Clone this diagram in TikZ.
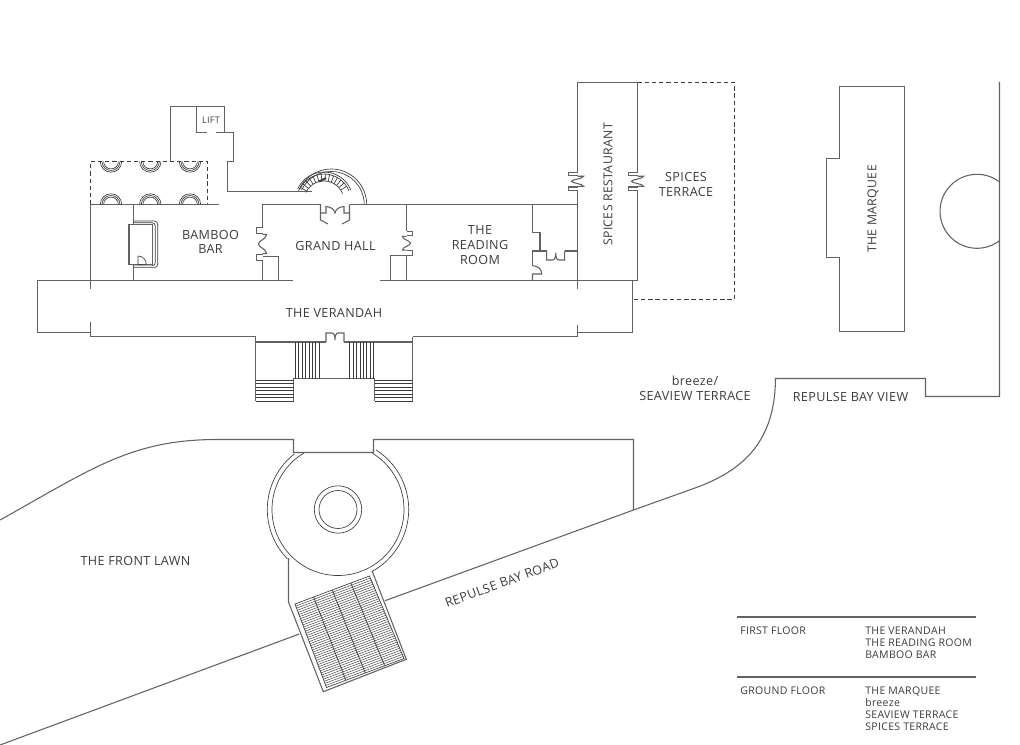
\documentclass[tikz,border=0pt]{standalone}
\usepackage{fontspec}
\setmainfont{Open Sans}[LetterSpace=3]
\usetikzlibrary{calc}

\definecolor{wallgray}{HTML}{626262}
\definecolor{inkgray}{HTML}{3C3C3C}

\tikzset{
  wall/.style={draw=wallgray, line width=0.8pt, line join=miter},
  thin wall/.style={draw=inkgray, line width=0.5pt},
  dash wall/.style={draw=inkgray, line width=0.6pt, dash pattern=on 3.2pt off 2.2pt},
  room/.style={font=\fontsize{9.45}{11}\selectfont, text=inkgray, align=center, inner sep=0pt},
  tall room/.style={room, font=\fontsize{9.2}{11}\selectfont, rotate=90},
  small room/.style={font=\fontsize{7.9}{9}\selectfont, text=inkgray, align=left, inner sep=0pt},
  swing door/.pic={
    \draw[wall] (0,-14) -- (-6,-14) -- (-6,-9) -- (0,-9);
    \draw[wall] (0,9) -- (-6,9) -- (-6,14) -- (0,14);
    \draw[wall] (0,-8) -- (4,-8) .. controls (4,-4) and (-4,-3) .. (-4,0) .. controls (-4,3) and (4,4) .. (4,8) -- (0,8);
  },
  arch door/.pic={
    \draw[wall] (-9,0) -- (-9,9) -- (-3,9) .. controls (-1,9) and (0,6) .. (0,2) .. controls (0,6) and (1,9) .. (3,9) -- (9,9) -- (9,0);
  }
}

\begin{document}
\begin{tikzpicture}[x=0.75pt, y=-0.75pt]
  \path[use as bounding box] (0,0) rectangle (1020,745);

  % Lift and back stairs
  \draw[wall] (170.5,161.5) -- (170.5,106.5) -- (224.5,106.5) -- (224.5,132.5);
  \draw[wall] (196.5,106.5) -- (196.5,132.5) -- (207,132.5);
  \draw[wall] (216,132.5) -- (233.5,132.5) -- (233.5,161.5) -- (227.5,161.5) -- (227.5,191.5) -- (312,191.5);

  % Bamboo bar terrace
  \draw[dash wall] (90.5,204.5) -- (90.5,161.5) -- (207.5,161.5) -- (207.5,204.5);
  \draw[wall] (90.5,204.5) -- (219,204.5);
  \draw[wall] (90.5,204.5) -- (90.5,289);
  \draw[wall] (133.5,204.5) -- (133.5,224);
  \draw[wall] (133.5,264) -- (133.5,280.5);
  \foreach \cx in {111,150.3,190} {
    \foreach \r in {10.7,9,7.4} {
      \draw[thin wall] (\cx,204.5) ++(-180:\r) arc[start angle=-180, end angle=0, radius=\r];
      \draw[thin wall] (\cx,161.5) ++(180:\r) arc[start angle=180, end angle=0, radius=\r];
    }
  }

  % Bar counter
  \draw[wall] (129,224.5) rectangle (152.5,264.5);
  \draw[thin wall] (138,264.5) -- (138,256) arc[start angle=-90, end angle=0, radius=8.3] -- cycle;
  \foreach \rx/\ry in {157.7/221,155.3/222.7} {
    \draw[thin wall, rounded corners=2.5pt] (133.5,\ry) -- (\rx,\ry) -- (\rx,488.6-\ry) -- (133.5,488.6-\ry);
  }

  % Grand hall
  \draw[wall] (262.5,227) -- (262.5,204.5) -- (320.5,204.5);
  \draw[wall] (262.5,261) -- (262.5,280.5);
  \draw[wall] (262.5,256.5) -- (278.5,256.5) -- (278.5,280.5);
  \pic[yscale=1.19] at (262.5,244) {swing door};
  \draw[wall] (320.5,204.5) -- (320.5,220) -- (328,224);
  \draw[wall] (320.5,213) -- (326,213) -- (326,206.5) .. controls (331,207) and (334,209) .. (335,213) .. controls (336,209) and (339,207) .. (344,206.5) -- (344,213) -- (349.5,213);
  \draw[wall] (349.5,204.5) -- (349.5,220) -- (342,224);
  \draw[wall] (349.5,204.5) -- (577.5,204.5);

  % Grand stair
  \draw[thin wall] (366.7,204.5) arc[start angle=0, end angle=-157, radius=35.5];
  \draw[thin wall] (364.2,204.5) arc[start angle=0, end angle=-154, radius=33];
  \foreach \r in {29,27,20} {
    \draw[thin wall] (324,201) ++(-155:\r) arc[start angle=-155, end angle=-22, radius=\r];
  }
  \foreach \a in {-150,-141,...,-25} {
    \draw[thin wall] (324,201) ++(\a:20) -- ++(\a:7);
  }
  \draw[draw=inkgray, line width=1.4pt] (319,181.5) -- (326,178);

  % Reading room
  \draw[wall] (406.5,204.5) -- (406.5,231);
  \draw[wall] (406.5,255.5) -- (406.5,280.5);
  \draw[wall] (406.5,255.5) -- (390.5,255.5) -- (390.5,280.5);
  \pic[xscale=-1, yscale=0.86] at (406.5,243.2) {swing door};

  % Service room
  \draw[wall] (532.5,204.5) -- (532.5,232.5) -- (540,232.5) -- (540,251);
  \draw[wall] (532.5,265.7) -- (532.5,251) -- (546.7,251);
  \pic at (555.7,251) {arch door};
  \draw[wall] (564.7,251) -- (577.5,251);
  \draw[wall] (532.5,265.7) .. controls (538,266) and (541.7,269) .. (541.7,274) -- (532.5,274) -- (532.5,280.5);

  % Spices restaurant and terrace
  \draw[wall] (577.5,172.5) -- (577.5,82.5) -- (637.5,82.5) -- (637.5,172.5);
  \draw[wall] (577.5,190) -- (577.5,289);
  \draw[wall] (637.5,190) -- (637.5,280.5);
  \pic[xscale=1.5, yscale=0.63] at (577.5,181.3) {swing door};
  \pic[xscale=1.5, yscale=0.63] at (637.5,181.3) {swing door};
  \draw[dash wall] (637.5,82.5) -- (734.5,82.5) -- (734.5,299.5) -- (632.5,299.5);

  % Verandah
  \draw[wall] (293,280.5) -- (37.5,280.5) -- (37.5,332.5) -- (90.5,332.5);
  \draw[wall] (380,280.5) -- (637.5,280.5);
  \draw[wall] (632.5,280.5) -- (632.5,332.5) -- (577.5,332.5);
  \draw[wall] (90.5,322) -- (90.5,336.5) -- (255.5,336.5);
  \draw[wall] (577.5,325) -- (577.5,336.5) -- (412.5,336.5);

  % Entrance steps
  \draw[wall] (255.5,336.5) -- (255.5,401);
  \draw[wall] (412.5,336.5) -- (412.5,401);
  \draw[wall] (255.5,342) -- (326,342);
  \draw[wall] (344,342) -- (412.5,342);
  \pic[yscale=-1] at (335,342) {arch door};
  \draw[wall] (293.5,401) -- (293.5,378.5) -- (374.5,378.5) -- (374.5,401);
  \foreach \sx in {295,298.5,302.3,305.7,309,312.3,315.7,319.3} {
    \draw[thin wall] (\sx,342) -- (\sx,378.5);
    \draw[thin wall] (\sx+54.5,342) -- (\sx+54.5,378.5);
  }
  \foreach \sy in {380,383.5,387,390.5,394,397.5,401} {
    \draw[thin wall] (255.5,\sy) -- (293.5,\sy);
    \draw[thin wall] (374.5,\sy) -- (412.5,\sy);
  }

  % Forecourt and rotunda
  \draw[wall] (0,520) .. controls (90,470) and (130,440) .. (215,439.5) -- (293.5,439.5) -- (293.5,452.5) -- (373.5,452.5) -- (373.5,439.5) -- (633.5,439.5) -- (633.5,510);
  \draw[thin wall] (338,509.5) circle[radius=23.7];
  \draw[thin wall] (338,509.5) circle[radius=19];
  \draw[thin wall] (338,509.5) ++(-121:66) arc[start angle=-121, end angle=-418.6, radius=66];
  \draw[thin wall] (338,509.5) ++(-128:70.7) arc[start angle=-128, end angle=-224.3, radius=70.7];
  \draw[thin wall] (338,509.5) ++(61.2:70.7) arc[start angle=61.2, end angle=-57.6, radius=70.7];
  \draw[wall] (288.5,558) -- (288.5,602) -- (323.3,691.7) -- (406.3,659.3) -- (372,570.7);

  % Lower flight
  \coordinate (flightA) at (295,604);
  \coordinate (flightB) at (369.5,576);
  \coordinate (flightC) at (404,658.5);
  \coordinate (flightD) at (326.5,687.5);
  \draw[thin wall] (flightA) -- (flightB) -- (flightC) -- (flightD) -- cycle;
  \foreach \t in {0.025,0.05,...,0.98} {
    \draw[draw=inkgray, line width=0.35pt] ($(flightA)!\t!(flightD)$) -- ($(flightB)!\t!(flightC)$);
  }
  \foreach \t in {0.25,0.5,0.75} {
    \draw[thin wall] ($(flightA)!\t!(flightB)$) -- ($(flightD)!\t!(flightC)$);
  }

  % Road and seaview boundary
  \draw[wall] (0,745) -- (299.3,634);
  \draw[wall] (385,600.7) -- (633.5,510) -- (695,488) .. controls (745,470) and (775,440) .. (775.5,378.5) -- (925.5,378.5) -- (925.5,396.5) -- (999.5,396.5) -- (999.5,82);
  \draw[wall] (977,211.3) ++(-52.2:37) arc[start angle=-52.2, end angle=-307.8, radius=37];

  % Marquee
  \draw[wall] (839.5,86.5) -- (904.5,86.5) -- (904.5,331.5) -- (839.5,331.5) -- (839.5,257.5) -- (826.5,257.5) -- (826.5,158.5) -- (839.5,158.5) -- cycle;

  % Labels
  \node[small room, font=\fontsize{6.8}{8}\selectfont] (lift) at (211,120) {LIFT};
  \node[room] (bamboo) at (210.5,242) {BAMBOO\\BAR};
  \node[room] (grandhall) at (335.5,246) {GRAND HALL};
  \node[room] (reading) at (480,245) {THE\\READING\\ROOM};
  \node[tall room] (spices) at (608,184.5) {SPICES RESTAURANT};
  \node[room] (terrace) at (686,184.5) {SPICES\\TERRACE};
  \node[tall room] (marquee) at (873,209) {THE MARQUEE};
  \node[room] (verandah) at (334,312.5) {THE VERANDAH};
  \node[room] (seaview) at (695,388) {breeze/\\SEAVIEW TERRACE};
  \node[room] (bayview) at (850.5,397) {REPULSE BAY VIEW};
  \node[room] (lawn) at (135.5,560.5) {THE FRONT LAWN};
  \node[room, rotate=20] (road) at (502,583) {REPULSE BAY ROAD};

  % Floor key
  \draw[wall] (737,617) -- (976,617);
  \draw[wall] (737,677) -- (976,677);
  \node[small room, anchor=north west] (first) at (740,626.5) {FIRST FLOOR};
  \node[small room, anchor=north west] (firstrooms) at (865,626.5) {THE VERANDAH\\THE READING ROOM\\BAMBOO BAR};
  \node[small room, anchor=north west] (ground) at (740,686.5) {GROUND FLOOR};
  \node[small room, anchor=north west] (groundrooms) at (865,686.5) {THE MARQUEE\\breeze\\SEAVIEW TERRACE\\SPICES TERRACE};
\end{tikzpicture}
\end{document}
